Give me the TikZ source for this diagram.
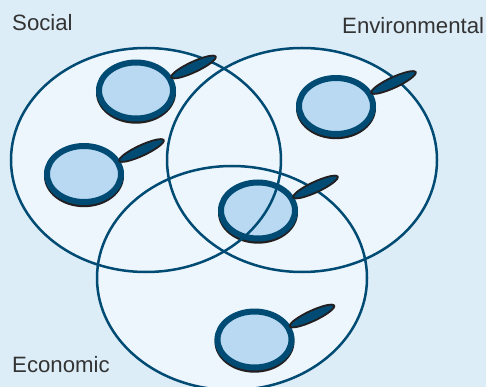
\documentclass[tikz,border=0pt]{standalone}
\usepackage{fontspec}
\setmainfont{Liberation Sans}
\usetikzlibrary{shapes.geometric}
\definecolor{paleblue}{HTML}{DCEDF8}
\definecolor{setblue}{HTML}{EDF6FC}
\definecolor{lensblue}{HTML}{B8D9F1}
\definecolor{darkblue}{HTML}{004B73}
\definecolor{shadowblack}{HTML}{231F20}
\definecolor{labelgrey}{HTML}{333333}
\tikzset{
	setfill/.style={ellipse, fill=setblue, inner sep=0pt, minimum width=270pt, minimum height=224pt},
	setline/.style={ellipse, draw=darkblue, line width=2.5pt, inner sep=0pt, minimum width=270pt, minimum height=224pt},
	lensshadow/.style={ellipse, fill=shadowblack, inner sep=0pt, minimum width=80pt, minimum height=62pt},
	lens/.style={ellipse, draw=darkblue, fill=lensblue, line width=6pt, inner sep=0pt, minimum width=74pt, minimum height=56pt},
	handle/.style={ellipse, draw=shadowblack, fill=darkblue, line width=1.8pt, rotate=25, inner sep=0pt, minimum width=49pt, minimum height=10.5pt},
	setlabel/.style={anchor=base west, inner sep=0pt, text=labelgrey, font=\fontsize{22.2}{24}\selectfont}
}
\begin{document}
\begin{tikzpicture}[x=1pt, y=-1pt]
	\fill[paleblue] (0,0) rectangle (486,387);
	\clip (0,0) rectangle (486,387);
	% the three sets
	\node[setfill] (socialfill) at (146,160) {};
	\node[setfill] (envfill) at (302,160) {};
	\node[setfill] (econfill) at (232,278) {};
	% magnifying glasses
	\foreach \name/\x/\y in {a/136/90.5, b/336/106, c/84/174, d/258/210.5, e/254.5/339.5} {
		\node[lensshadow] (shadow\name) at (\x,\y+2.2) {};
		\node[lens] (lens\name) at (\x,\y) {};
	}
	\node[setline] (social) at (146,160) {};
	\node[setline] (env) at (302,160) {};
	\node[setline] (econ) at (232,278) {};
	\foreach \name/\x/\y in {a/136/90.5, b/336/106, c/84/174, d/258/210.5, e/254.5/339.5} {
		\node[handle] (handle\name) at (\x+57.5,\y-23.5) {};
	}
	\node[setlabel] (sociallabel) at (12,31) {Social};
	\node[setlabel] (envlabel) at (342,33.5) {Environmental};
	\node[setlabel] (econlabel) at (12,372) {Economic};
\end{tikzpicture}
\end{document}
